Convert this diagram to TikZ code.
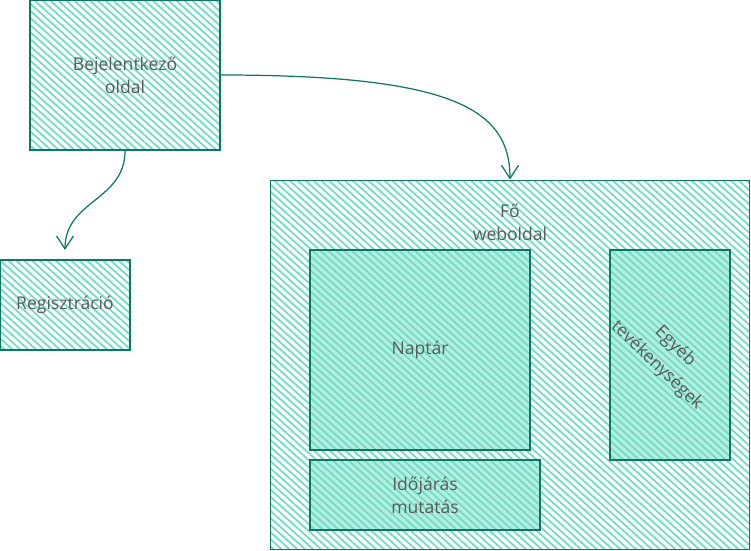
\documentclass[tikz,border=0pt]{standalone}
\usepackage{fontspec}
\setmainfont{Open Sans}
\usetikzlibrary{arrows.meta, patterns.meta, positioning}
\definecolor{tealline}{RGB}{12,120,100}
\definecolor{hatch}{RGB}{110,222,195}
\definecolor{labelgray}{RGB}{90,90,90}
\tikzset{
  box/.style={draw=tealline, line width=0.6pt, pattern={Lines[angle=-42, distance=3pt, line width=1pt]}, pattern color=hatch,
    text=labelgray, align=center, font=\fontsize{10}{13}\selectfont, inner sep=0pt},
  innerbox/.style={box, preaction={fill=hatch!50}},
  flow/.style={->, draw=tealline, line width=0.7pt}
}

\begin{document}
\begin{tikzpicture}[x=0.02cm, y=-0.02cm, >={Straight Barb[length=2.6mm, width=3.4mm]}]
                \useasboundingbox (0,0) rectangle (751,551);

                % Login page
                \node[box, minimum width=3.8cm, minimum height=3cm] (login) at (125,75) {Bejelentkező\\oldal};

                % Registration
                \node[box, minimum width=2.6cm, minimum height=1.8cm] (reg) at (65,305) {Regisztráció};
                \coordinate (regtop) at (65,250);

                % Main site
                \node[box, minimum width=9.6cm, minimum height=7.4cm] (main) at (510,365) {};
                \node[text=labelgray, align=center, font=\fontsize{10}{13}\selectfont] (mainlabel) at (510,222) {Fő\\weboldal};

                % Parts of the main site
                \node[innerbox, minimum width=4.4cm, minimum height=4cm] (calendar) at (420,350) {Naptár};
                \node[innerbox, minimum width=2.4cm, minimum height=4.2cm] (other) at (670,355) {};
                \node[text=labelgray, align=center, font=\fontsize{10}{15}\selectfont, rotate=-44] (otherlabel) at (666,356) {Egyéb\\tevékenységek};
                \node[innerbox, minimum width=4.6cm, minimum height=1.4cm] (weather) at (425,495) {Időjárás\\mutatás};

                % Connectors
                \draw[flow] (login.east) .. controls (455,75) and (510,110) .. (main.north);
                \draw[flow] (login.south) to[out=-90, in=90, looseness=1.1] (regtop);
            \end{tikzpicture}
\end{document}
